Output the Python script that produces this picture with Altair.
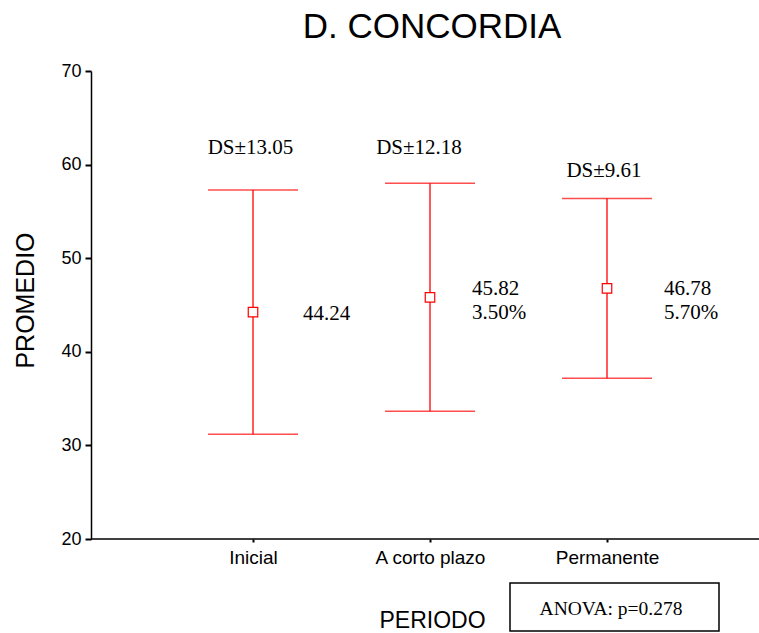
import altair as alt
import pandas as pd

categories = ["Inicial", "A corto plazo", "Permanente"]
means = [44.24, 45.82, 46.78]
sds = [13.05, 12.18, 9.61]
changes = ["", "3.50%", "5.70%"]
ds_labels = ["DS±13.05", "DS±12.18", "DS±9.61"]
y_ticks = [20, 30, 40, 50, 60, 70]
title_text = "D. CONCORDIA"
anova_text = "ANOVA: p=0.278"

df = pd.DataFrame({
    "periodo": categories,
    "mean": means,
    "sd": sds,
    "low": [m - s for m, s in zip(means, sds)],
    "high": [m + s for m, s in zip(means, sds)],
    "ds": ds_labels,
    "val": [f"{m:.2f}" for m in means],
    "pct": changes,
})

SANS = "Liberation Sans"
SERIF = "Liberation Serif"
RED = "#ff0000"
W, H = 668, 468

x_scale = alt.Scale(type="point", range=[162, 516], padding=0)
y_scale = alt.Scale(domain=[20, 70], nice=False, zero=False)

x_axis = alt.Axis(
    title="PERIODO", labelAngle=0, grid=False, domain=False,
    tickColor="black", tickWidth=2, tickSize=3,
    labelFont=SANS, labelFontSize=19, labelColor="black", labelPadding=6,
    titleFont=SANS, titleFontSize=23, titleFontWeight="normal", titleColor="black",
    titleX=341, titleY=88, titleAlign="center", titleBaseline="alphabetic",
)
y_axis = alt.Axis(
    title="PROMEDIO", values=y_ticks, grid=False,
    domainColor="black", domainWidth=1.5,
    tickColor="black", tickWidth=2, tickSize=6,
    labelFont=SANS, labelFontSize=18, labelColor="black", labelPadding=4,
    titleFont=SANS, titleFontSize=25, titleFontWeight="normal", titleColor="black",
    titleX=-66, titleY=229, titleAngle=270, titleAlign="center", titleBaseline="middle",
)

base = alt.Chart(df)
X = alt.X("periodo:N", sort=categories, scale=x_scale, axis=x_axis)


def Y(field):
    return alt.Y(field, scale=y_scale, axis=y_axis)


bars = base.mark_rule(color=RED, strokeWidth=1.3).encode(
    x=X, y=Y("low:Q"), y2="high:Q"
)
cap_hi = base.mark_tick(color=RED, size=90, thickness=1.5, orient="horizontal").encode(
    x=X, y=Y("high:Q")
)
cap_lo = base.mark_tick(color=RED, size=90, thickness=1.5, orient="horizontal").encode(
    x=X, y=Y("low:Q")
)
pts = base.mark_point(shape="square", size=90, filled=True, fill="white",
                      stroke=RED, strokeWidth=1.2, opacity=1).encode(
    x=X, y=Y("mean:Q")
)

layers = [bars, cap_hi, cap_lo, pts]

# per-category annotation offsets (style only)
ds_dx = [-2.5, -11, -3]
ds_dy = [-36, -29, -21]
val_dx = [50, 42, 57]
val_y = [249, 224, 224]
for i, cat in enumerate(categories):
    f = base.transform_filter(alt.datum.periodo == cat)
    layers.append(
        f.mark_text(font=SERIF, fontSize=21, color="black", align="center",
                    baseline="alphabetic", dx=ds_dx[i], dy=ds_dy[i]).encode(
            x=X, y=Y("high:Q"), text="ds:N"
        )
    )
    layers.append(
        f.mark_text(font=SERIF, fontSize=21, color="black", align="left",
                    baseline="alphabetic", dx=val_dx[i]).encode(
            x=X, y=alt.value(val_y[i]), text="val:N"
        )
    )
    layers.append(
        f.mark_text(font=SERIF, fontSize=21, color="black", align="left",
                    baseline="alphabetic", dx=val_dx[i]).encode(
            x=X, y=alt.value(248), text="pct:N"
        )
    )

ann = alt.Chart(pd.DataFrame({"t": [anova_text], "title": [title_text]}))
x_domain = ann.mark_rule(color="black", strokeWidth=1.5).encode(
    x=alt.value(0), x2=alt.value(W), y=alt.value(H)
)
title = ann.mark_text(font=SANS, fontSize=35, color="black", align="center",
                      baseline="alphabetic").encode(
    x=alt.value(341), y=alt.value(-33), text="title:N"
)
box = ann.mark_rect(fill="white", stroke="black", strokeWidth=1.5).encode(
    x=alt.value(419), x2=alt.value(628), y=alt.value(512), y2=alt.value(560)
)
anova = ann.mark_text(font=SERIF, fontSize=19.5, color="black", align="center",
                      baseline="alphabetic").encode(
    x=alt.value(520), y=alt.value(544), text="t:N"
)
layers += [x_domain, title, box, anova]

chart = alt.layer(*layers).properties(
    width=W, height=H,
    padding={"left": 91, "top": 71, "right": 0, "bottom": 94},
    autosize=alt.AutoSizeParams(type="none"),
    background="white",
).configure_view(stroke=None)

chart.save("out.html", embed_options={"renderer": "svg", "actions": False})
